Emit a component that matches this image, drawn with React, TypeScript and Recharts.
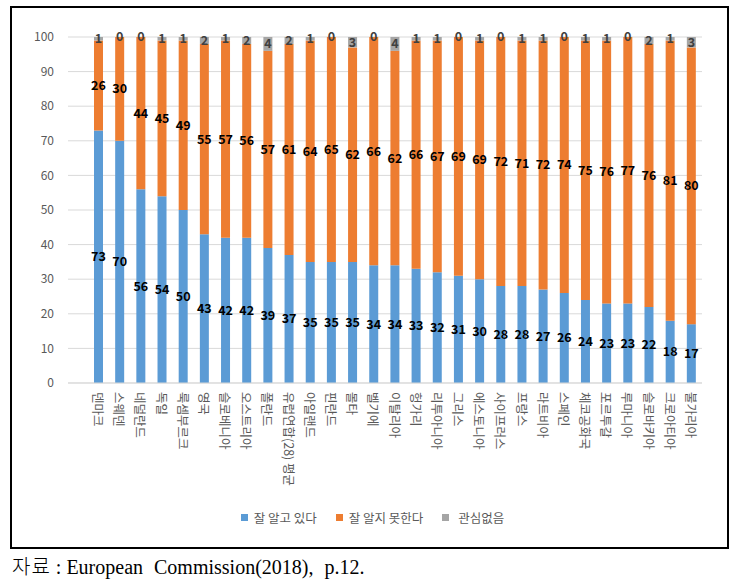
import React from 'react';
import { BarChart, Bar, XAxis, YAxis, CartesianGrid, LabelList, Legend } from 'recharts';

const categories = ['덴마크','스웨덴','네덜란드','독일','룩셈부르크','영국','슬로베니아','오스트리아','폴란드','유럽연합(28) 평균','아일랜드','핀란드','몰타','벨기에','이탈리아','헝가리','리투아니아','그리스','에스토니아','사이프러스','프랑스','라트비아','스페인','체코공화국','포르투갈','루마니아','슬로바키아','크로아티아','불가리아'];
const knowWell = [73,70,56,54,50,43,42,42,39,37,35,35,35,34,34,33,32,31,30,28,28,27,26,24,23,23,22,18,17];
const notKnow = [26,30,44,45,49,55,57,56,57,61,64,65,62,66,62,66,67,69,69,72,71,72,74,75,76,77,76,81,80];
const noInterest = [1,0,0,1,1,2,1,2,4,2,1,0,3,0,4,1,1,0,1,0,1,1,0,1,1,0,2,1,3];
const yTicks = [0,10,20,30,40,50,60,70,80,90,100];
const seriesNames = ['잘 알고 있다','잘 알지 못한다','관심없음'];
const colors = ['#5b9bd5','#ed7d31','#a5a5a5'];

const data = categories.map((name, i) => ({ name, a: knowWell[i], b: notKnow[i], c: noInterest[i] }));

const FONT = '"Noto Sans CJK KR", "Noto Sans", sans-serif';

const XTick = (props: any) => {
  const { x, y, payload } = props;
  return (
    <text x={x} y={y} transform={`rotate(90 ${x} ${y})`} textAnchor="start" dominantBaseline="central"
      fontSize={12.5} fill="#595959" fontFamily={FONT}>{payload.value}</text>
  );
};

const LegendContent = () => (
  <div style={{ display: 'flex', justifyContent: 'center', alignItems: 'center', fontFamily: FONT, fontSize: 12.5, color: '#595959' }}>
    {seriesNames.map((n, i) => (
      <div key={n} style={{ display: 'flex', alignItems: 'center', marginRight: i < 2 ? 19 : 0 }}>
        <span style={{ display: 'inline-block', width: 7, height: 7, background: colors[i], marginRight: i === 2 ? 9 : 6 }} />
        <span>{n}</span>
      </div>
    ))}
  </div>
);

export default function App() {
  return (
    <div style={{ position: 'absolute', left: 0, top: 0, width: 737, height: 580, background: '#fff' }}>
      <div style={{ position: 'absolute', left: 10, top: 6, width: 715, height: 539, border: '2px solid #000' }} />
      <div style={{ position: 'absolute', left: 0, top: 0 }}>
        <BarChart width={737} height={580} data={data} margin={{ top: 37, right: 35, left: 8, bottom: 47 }}>
          <CartesianGrid vertical={false} stroke="#d9d9d9" />
          <XAxis dataKey="name" interval={0} tick={<XTick />} tickLine={false} axisLine={{ stroke: '#d9d9d9' }}
            height={150} tickMargin={3} padding={{ left: 20, right: 0 }} />
          <YAxis domain={[0, 100]} ticks={yTicks} width={60} tickLine={false} axisLine={false}
            tick={{ fontSize: 12, fill: '#595959', fontFamily: FONT }} tickMargin={8} />
          <Legend layout="horizontal" verticalAlign="middle" align="center" content={<LegendContent />}
            wrapperStyle={{ top: 508, left: 4, width: 737 }} />
          <Bar dataKey="a" stackId="s" fill={colors[0]} barSize={9} isAnimationActive={false} name={seriesNames[0]}>
            <LabelList dataKey="a" position="center" fill="#000" fontSize={12.5} fontWeight={700} fontFamily={FONT} />
          </Bar>
          <Bar dataKey="b" stackId="s" fill={colors[1]} barSize={9} isAnimationActive={false} name={seriesNames[1]}>
            <LabelList dataKey="b" position="center" fill="#000" fontSize={12.5} fontWeight={700} fontFamily={FONT} />
          </Bar>
          <Bar dataKey="c" stackId="s" fill={colors[2]} barSize={9} minPointSize={0.01} isAnimationActive={false} name={seriesNames[2]}>
            <LabelList dataKey="c" position="center" fill="#404040" fontSize={12.5} fontWeight={700} fontFamily={FONT} />
          </Bar>
        </BarChart>
      </div>
      <div style={{ position: 'absolute', left: 12, top: 551, fontFamily: '"Liberation Serif", "Noto Sans CJK KR", serif', fontSize: 20, color: '#000', whiteSpace: 'nowrap' }}>
        <span style={{ fontWeight: 300, letterSpacing: 1 }}>자료</span><span> : </span><span style={{ wordSpacing: 6 }}>European Commission(2018), p.12.</span>
      </div>
    </div>
  );
}
